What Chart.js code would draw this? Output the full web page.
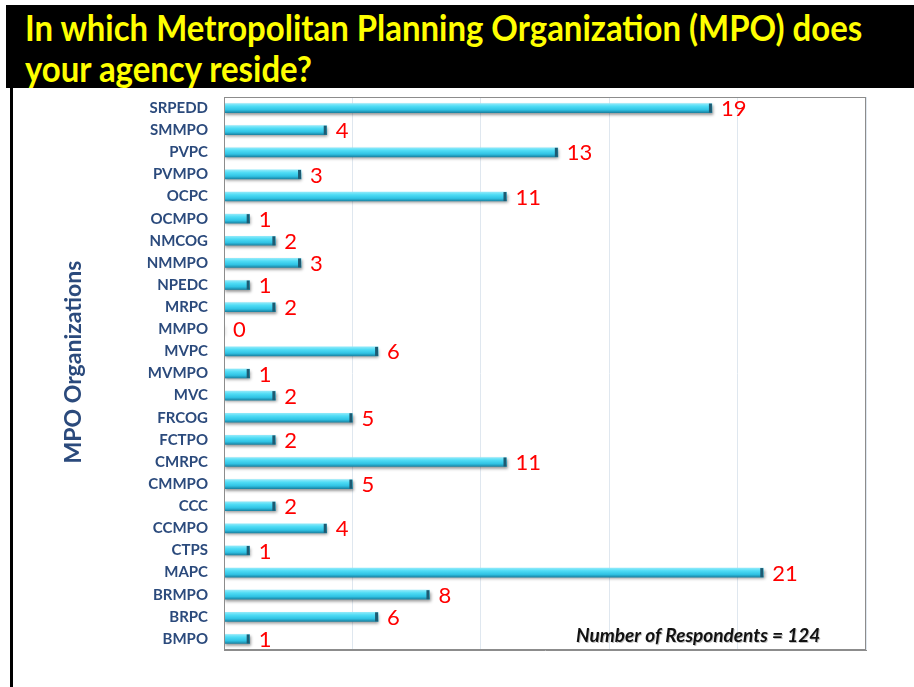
<!DOCTYPE html>
<html>
<head>
<meta charset="utf-8">
<script src="https://cdn.jsdelivr.net/npm/chart.js@4.4.1/dist/chart.umd.min.js"></script>
<style>
  body { margin: 0; background: #fff; }
  #wrap { position: relative; width: 914px; height: 687px; overflow: hidden; }
  #header { position: absolute; left: 6px; top: 5px; width: 908px; height: 83px; background: #000; }
  .ttl { position: absolute; left: 19px; color: #ffff00; font: bold 37px Lato, sans-serif; white-space: nowrap; transform-origin: 0 0; line-height: 1; }
  #leftBorder { position: absolute; left: 10px; top: 88px; width: 3px; height: 599px; background: #000; }
  canvas { position: absolute; left: 0; top: 0; }
</style>
</head>
<body>
<div id="wrap">
  <div id="header">
    <span class="ttl" id="t1" style="top:3px">In which Metropolitan Planning Organization (MPO) does</span>
    <span class="ttl" id="t2" style="top:44px">your agency reside?</span>
  </div>
  <div id="leftBorder"></div>
  <canvas id="chart" width="914" height="687"></canvas>
</div>
<script>
// squeeze title lines like the original (narrow font)
const t1 = document.getElementById('t1')
const sx = 837 / t1.offsetWidth
document.querySelectorAll('.ttl').forEach(el => { el.style.transform = 'scaleX(' + sx + ')' })

const organizations = ['SRPEDD', 'SMMPO', 'PVPC', 'PVMPO', 'OCPC', 'OCMPO', 'NMCOG', 'NMMPO', 'NPEDC', 'MRPC',
  'MMPO', 'MVPC', 'MVMPO', 'MVC', 'FRCOG', 'FCTPO', 'CMRPC', 'CMMPO', 'CCC', 'CCMPO', 'CTPS', 'MAPC', 'BRMPO', 'BRPC', 'BMPO']
const respondents = [19, 4, 13, 3, 11, 1, 2, 3, 1, 2, 0, 6, 1, 2, 5, 2, 11, 5, 2, 4, 1, 21, 8, 6, 1]
const xTicks = [0, 5, 10, 15, 20, 25]
const axisTitle = 'MPO Organizations'
const footNote = 'Number of Respondents = 124'

const BAR_H = 9

const barLook = {
  id: 'barLook',
  beforeDatasetDraw(chart) {
    const ctx = chart.ctx
    ctx.save()
    ctx.shadowColor = 'rgba(0,0,0,0.4)'
    ctx.shadowOffsetX = 1
    ctx.shadowOffsetY = 2
    ctx.shadowBlur = 3
  },
  afterDatasetDraw(chart) {
    const ctx = chart.ctx
    ctx.restore()
    // dark end caps
    chart.getDatasetMeta(0).data.forEach((bar, i) => {
      if (!respondents[i]) return
      ctx.fillStyle = '#1d5a72'
      ctx.fillRect(bar.x - 3, bar.y - BAR_H / 2, 3, BAR_H)
    })
  },
  afterDraw(chart) {
    const ctx = chart.ctx
    const a = chart.chartArea
    ctx.save()
    // plot frame
    ctx.strokeStyle = '#8c8c8c'
    ctx.lineWidth = 1
    ctx.strokeRect(a.left + 0.5, a.top + 0.5, a.right - a.left - 1, a.bottom - a.top - 1)
    // value labels
    ctx.fillStyle = '#ff0000'
    ctx.font = '22px Lato, sans-serif'
    ctx.textBaseline = 'middle'
    chart.getDatasetMeta(0).data.forEach((bar, i) => {
      ctx.fillText(String(respondents[i]), bar.x + 9, bar.y + 1)
    })
    // axis title
    ctx.save()
    ctx.translate(74, 362)
    ctx.rotate(-Math.PI / 2)
    ctx.fillStyle = '#2b4a7c'
    ctx.font = 'bold 23px Lato, sans-serif'
    ctx.textAlign = 'center'
    ctx.textBaseline = 'middle'
    ctx.fillText(axisTitle, 0, 0)
    ctx.restore()
    // footnote
    ctx.font = 'italic bold 19px Lato, sans-serif'
    ctx.textAlign = 'left'
    ctx.textBaseline = 'middle'
    ctx.fillStyle = 'rgba(0,0,0,0.25)'
    ctx.fillText(footNote, 577, 637)
    ctx.fillStyle = '#111'
    ctx.fillText(footNote, 576, 636)
    ctx.restore()
  }
}

function barFill(c) {
  const chart = c.chart
  if (c.dataIndex === undefined || !chart.scales.y) return '#35c8e8'
  const y = chart.scales.y.getPixelForValue(c.dataIndex)
  if (!isFinite(y)) return '#35c8e8'
  const g = chart.ctx.createLinearGradient(0, y - BAR_H / 2, 0, y + BAR_H / 2)
  g.addColorStop(0, '#8ee9fa')
  g.addColorStop(0.3, '#4fdcf5')
  g.addColorStop(0.7, '#30c3e4')
  g.addColorStop(1, '#1b86a6')
  return g
}

new Chart(document.getElementById('chart'), {
  type: 'bar',
  data: {
    labels: organizations,
    datasets: [{
      data: respondents,
      backgroundColor: barFill,
      borderWidth: 0,
      barThickness: BAR_H
    }]
  },
  options: {
    indexAxis: 'y',
    responsive: false,
    animation: false,
    layout: { padding: { top: 97, right: 48, bottom: 37, left: 0 } },
    plugins: { legend: { display: false }, tooltip: { enabled: false } },
    scales: {
      x: {
        min: xTicks[0],
        max: xTicks[xTicks.length - 1],
        afterBuildTicks: scale => { scale.ticks = xTicks.map(v => ({ value: v })) },
        ticks: { display: false },
        grid: { color: '#dfe7ef', drawTicks: false },
        border: { color: '#8c8c8c' }
      },
      y: {
        afterFit: scale => { scale.width = 224 },
        ticks: {
          padding: 16,
          color: '#2b4a7c',
          font: { family: 'Lato', weight: 'bold', size: 15 }
        },
        grid: { display: false, drawTicks: false },
        border: { color: '#8c8c8c' }
      }
    }
  },
  plugins: [barLook]
})
</script>
</body>
</html>
